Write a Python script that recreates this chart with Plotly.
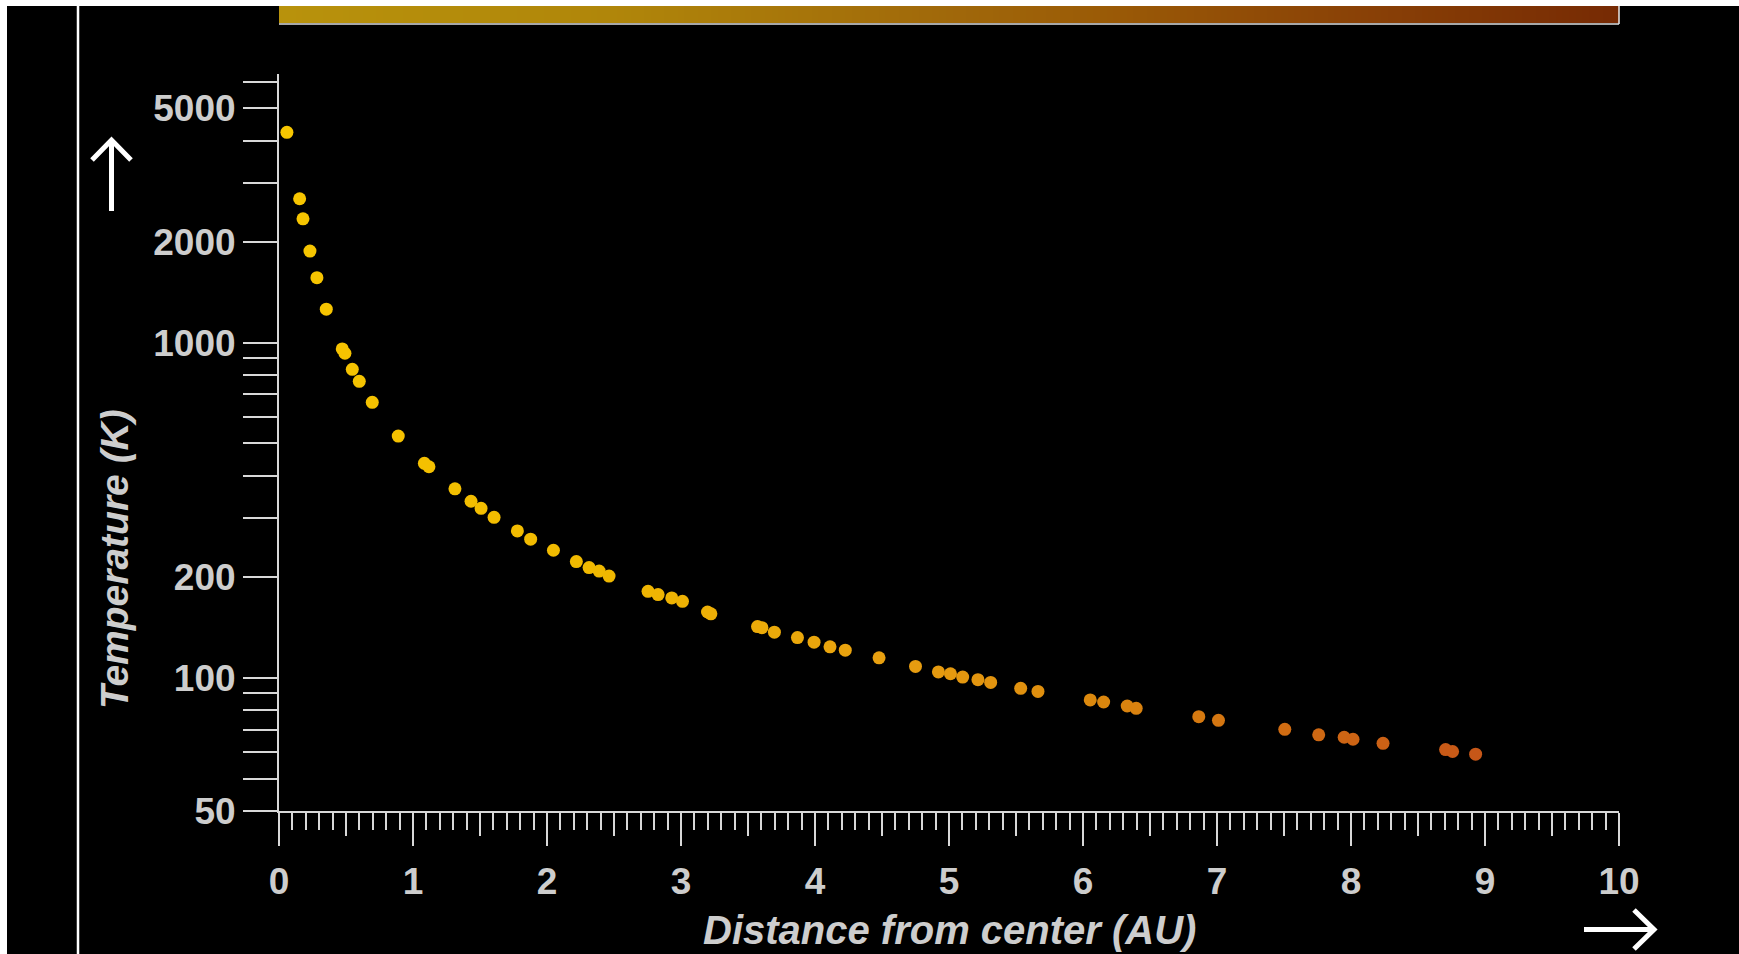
import plotly.graph_objects as go

# ---------------- data ----------------
distance_au = [0.059, 0.154, 0.179, 0.231, 0.283, 0.353, 0.472, 0.492, 0.547, 0.599,
               0.696, 0.890, 1.085, 1.119, 1.313, 1.433, 1.508, 1.605, 1.779, 1.878,
               2.048, 2.219, 2.314, 2.389, 2.463, 2.754, 2.829, 2.931, 3.011, 3.198,
               3.223, 3.571, 3.604, 3.697, 3.869, 3.993, 4.112, 4.226, 4.478, 4.750,
               4.921, 5.011, 5.102, 5.216, 5.311, 5.535, 5.664, 6.054, 6.154, 6.330,
               6.397, 6.864, 7.011, 7.506, 7.759, 7.949, 8.015, 8.239, 8.706, 8.758,
               8.930]
temperature_k = [4240, 2686, 2340, 1875, 1562, 1258, 957, 929, 832, 766,
                 663, 526, 436, 426, 366, 336, 320, 301, 274, 259,
                 240, 222, 213, 208, 201, 181, 177, 173, 169, 157,
                 155, 142, 141, 136.7, 131.7, 127.6, 123.6, 120.8, 114.6, 108,
                 104, 102.7, 100.4, 98.6, 96.8, 92.9, 91, 85.8, 84.6, 82.3,
                 81, 76.5, 74.6, 70.1, 67.5, 66.4, 65.5, 63.7, 61, 60.2,
                 59.1]

x_tick_vals = [0, 1, 2, 3, 4, 5, 6, 7, 8, 9, 10]
x_tick_text = ["0", "1", "2", "3", "4", "5", "6", "7", "8", "9", "10"]
x_half_ticks = [0.5, 1.5, 2.5, 3.5, 4.5, 5.5, 6.5, 7.5, 8.5, 9.5]

y_tick_vals = [40, 50, 60, 70, 80, 90, 100, 200, 300, 400, 500, 600, 700, 800, 900,
               1000, 2000, 3000, 4000, 5000, 6000]
y_tick_text = ["50", "", "", "", "", "", "100", "200", "", "", "", "", "", "", "",
               "1000", "2000", "", "", "5000", ""]

bar_positions = [i * 0.05 for i in range(201)]

marker_scale = [[0.0, "#F7C600"], [0.25, "#F0B800"], [0.45, "#E8A010"],
                [0.6, "#DC8A0E"], [0.75, "#D06C12"], [0.9, "#C65618"], [1.0, "#C04C18"]]
bar_scale = [[0.0, "#B8920C"], [0.25, "#B0860A"], [0.5, "#A0680A"],
             [0.62, "#9A5A06"], [0.8, "#8A4206"], [1.0, "#762A04"]]

FONT = "Liberation Sans, Arial, sans-serif"
LABEL = "#cdcdcd"
AXIS = "#d8d8d8"

# ---------------- figure ----------------
fig = go.Figure()

fig.add_trace(go.Heatmap(
    x=bar_positions, y=[0], z=[bar_positions],
    colorscale=bar_scale, zmin=0, zmax=10, showscale=False,
    xaxis="x", yaxis="y2", hoverinfo="skip"))

fig.add_trace(go.Scatter(
    x=distance_au, y=temperature_k, mode="markers",
    marker=dict(size=13, color=distance_au, colorscale=marker_scale,
                cmin=0, cmax=10, line=dict(width=0)),
    xaxis="x", yaxis="y", showlegend=False,
    hovertemplate="%{x:.2f} AU<br>%{y:.0f} K<extra></extra>"))

# invisible helper trace for the half-unit tick axis
fig.add_trace(go.Scatter(x=[0.5], y=[100], mode="markers", marker=dict(opacity=0),
                         xaxis="x3", yaxis="y", showlegend=False, hoverinfo="skip"))

L, R, T, B = 279, 120, 6, 143
W, H = 1739, 954
PW, PH = W - L - R, H - T - B


def px(xp):
    return (xp - L) / PW


def py(yp):
    return (H - B - yp) / PH


def path(points):
    segs = []
    for stroke in points:
        segs.append("M " + " L ".join(f"{px(a):.5f},{py(b):.5f}" for a, b in stroke))
    return " ".join(segs)


up_arrow = path([[(111.5, 211), (111.5, 141)], [(92, 160), (111.5, 140), (131, 160)]])
right_arrow = path([[(1584, 929.5), (1653, 929.5)], [(1634, 910), (1654, 929.5), (1634, 949)]])

fig.update_layout(
    width=W, height=H,
    margin=dict(l=L, r=R, t=T, b=B, pad=0),
    paper_bgcolor="black", plot_bgcolor="black",
    showlegend=False,
    xaxis=dict(
        range=[0, 10], domain=[0, 1], anchor="y",
        showgrid=False, zeroline=False,
        showline=True, linecolor=AXIS, linewidth=2,
        tickmode="array", tickvals=x_tick_vals, ticktext=x_tick_text,
        ticks="outside", ticklen=33, tickwidth=1.5, tickcolor=AXIS,
        tickfont=dict(family=FONT, size=37, color=LABEL, weight="bold"),
        ticklabelstandoff=4,
        minor=dict(tickmode="linear", tick0=0, dtick=0.1, ticks="outside",
                   ticklen=17, tickwidth=1.5, tickcolor=AXIS, showgrid=False),
    ),
    xaxis3=dict(
        range=[0, 10], overlaying="x", anchor="y", side="bottom",
        showgrid=False, zeroline=False, showline=False,
        tickmode="array", tickvals=x_half_ticks, ticks="outside",
        ticklen=24, tickwidth=1.5, tickcolor=AXIS, showticklabels=False,
    ),
    yaxis=dict(
        type="log", range=[1.60206, 3.8014], domain=[0, py(74)], anchor="x",
        showgrid=False, zeroline=False,
        showline=True, linecolor=AXIS, linewidth=2,
        tickmode="array", tickvals=y_tick_vals, ticktext=y_tick_text,
        ticks="outside", ticklen=34, tickwidth=1.5, tickcolor=AXIS,
        tickfont=dict(family=FONT, size=37, color=LABEL, weight="bold"),
        ticklabelstandoff=0,
    ),
    yaxis2=dict(domain=[py(24), 1], anchor="x", visible=False,
                range=[-0.5, 0.5], fixedrange=True),
    shapes=[
        # white page strips (top and left)
        dict(type="rect", xref="paper", yref="paper", x0=-0.3, x1=1.3, y0=1.0, y1=1.2,
             fillcolor="white", line=dict(width=0), layer="above"),
        dict(type="rect", xref="paper", yref="paper", x0=-0.3, x1=px(7), y0=-0.3, y1=1.2,
             fillcolor="white", line=dict(width=0), layer="above"),
        # left vertical white rule
        dict(type="line", xref="paper", yref="paper", x0=px(78), x1=px(78), y0=py(6), y1=-0.3,
             line=dict(color="white", width=2.5)),
        # bar edges
        dict(type="line", xref="paper", yref="paper", x0=0, x1=1, y0=py(24), y1=py(24),
             line=dict(color="#a8a8a8", width=2)),
        dict(type="line", xref="paper", yref="paper", x0=1, x1=1, y0=py(24), y1=1,
             line=dict(color="#e8e8e8", width=1.5)),
        # direction arrows
        dict(type="path", xref="paper", yref="paper", path=up_arrow,
             line=dict(color="white", width=5)),
        dict(type="path", xref="paper", yref="paper", path=right_arrow,
             line=dict(color="white", width=5)),
    ],
    annotations=[
        dict(text="Temperature (K)", xref="paper", yref="paper",
             x=px(114), y=py(559), xanchor="center", yanchor="middle",
             textangle=-90, showarrow=False,
             font=dict(family=FONT, size=39, color=LABEL, weight="bold", style="italic")),
        dict(text="Distance from center (AU)", xref="paper", yref="paper",
             x=px(949), y=py(930), xanchor="center", yanchor="middle",
             showarrow=False,
             font=dict(family=FONT, size=40, color=LABEL, weight="bold", style="italic")),
    ],
)

fig.write_html("out.html")
